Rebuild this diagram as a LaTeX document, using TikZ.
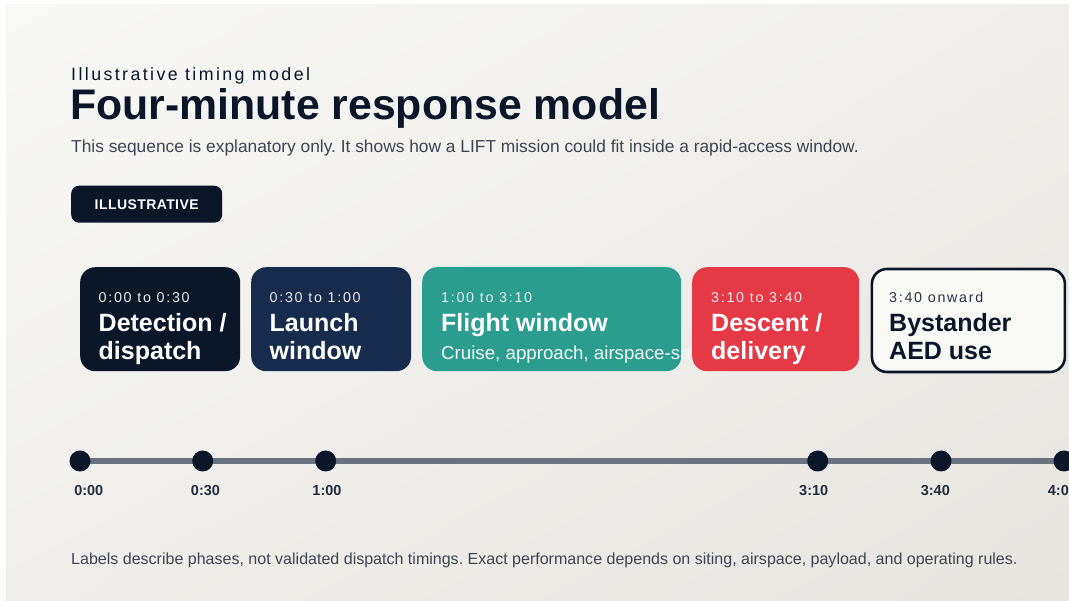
\documentclass[tikz,border=0pt]{standalone}
\usepackage{fontspec}
\usetikzlibrary{shadings}
\setmainfont{Liberation Sans}
\newfontfamily\spacedA[LetterSpace=13.5]{Liberation Sans}
\newfontfamily\spacedB[LetterSpace=12]{Liberation Sans}
\newfontfamily\spacedC[LetterSpace=3]{Liberation Sans}
\definecolor{ink}{HTML}{0B1628}
\definecolor{navyB}{HTML}{172B4D}
\definecolor{teal}{HTML}{2A9D8F}
\definecolor{redc}{HTML}{E63946}
\definecolor{paper}{HTML}{F9F9F6}
\definecolor{muted}{HTML}{3F4452}
\definecolor{track}{HTML}{6B7280}
\definecolor{bgA}{HTML}{F8F8F6}
\definecolor{bgB}{HTML}{E7E5E0}
\definecolor{bgC}{HTML}{EFEEEA}
\begin{document}
\frenchspacing
\begin{tikzpicture}[x=1pt,y=-1pt,
  card/.style={rounded corners=15pt, inner sep=0pt, anchor=north west},
  timelab/.style={anchor=base west, inner sep=0pt, font=\spacedB\fontsize{14.3}{14.3}\selectfont, text=white!92!ink},
  ctitle/.style={anchor=base west, inner sep=0pt, font=\bfseries\fontsize{25}{25}\selectfont, text=white},
  dot/.style={circle, fill=ink, minimum size=21pt, inner sep=0pt},
  ticklab/.style={anchor=base, inner sep=0pt, font=\bfseries\fontsize{14.5}{14.5}\selectfont, text=ink!90!white}
]
\useasboundingbox (0,0) rectangle (1069,601);
\fill[white] (0,0) rectangle (1069,601);
\shade[upper left=bgA, lower right=bgB, upper right=bgC, lower left=bgC] (6,5) rectangle (1069,600);

% header
\node[anchor=base west, inner sep=0pt, text=ink, font=\spacedA\fontsize{17.8}{17.8}\selectfont] (kicker) at (71,80.5) {Illustrative timing model};
\node[anchor=base west, inner sep=0pt, text=ink, font=\bfseries\fontsize{42.8}{42.8}\selectfont] (title) at (70,120) {Four-minute response model};
\node[anchor=base west, inner sep=0pt, text=muted, font=\fontsize{17.35}{17.35}\selectfont] (sub) at (71,152.5) {This sequence is explanatory only. It shows how a LIFT mission could fit inside a rapid-access window.};

% badge
\node[anchor=north west, fill=ink, rounded corners=8pt, minimum width=151pt, minimum height=37pt, inner sep=0pt, text=white, font=\spacedC\bfseries\fontsize{14}{14}\selectfont] (badge) at (71,185.5) {ILLUSTRATIVE};

% cards
\node[card, fill=ink, minimum width=160pt, minimum height=104pt] (c1) at (80,267) {};
\node[card, fill=navyB, minimum width=160pt, minimum height=104pt] (c2) at (251,267) {};
\node[card, fill=teal, minimum width=259pt, minimum height=104pt] (c3) at (422,267) {};
\begin{scope}
\clip (422,267) rectangle (692,371);
\node[anchor=base west, inner sep=0pt, text=white!94!teal, font=\fontsize{18.7}{18.7}\selectfont] (c3s) at (441,359.5) {Cruise, approach, airspace-safe};
\end{scope}
\node[card, fill=redc, minimum width=167pt, minimum height=104pt] (c4) at (692,267) {};
\node[card, fill=paper, draw=ink, line width=2.6pt, minimum width=193pt, minimum height=103pt] (c5) at (870.6,267.7) {};

\node[timelab] (c1a) at (98.5,303) {0:00 to 0:30};
\node[ctitle]  (c1b) at (98.5,331.5) {Detection /};
\node[ctitle]  (c1c) at (98.5,359.5) {dispatch};

\node[timelab] (c2a) at (269.5,303) {0:30 to 1:00};
\node[ctitle]  (c2b) at (269.5,331.5) {Launch};
\node[ctitle]  (c2c) at (269.5,359.5) {window};

\node[timelab] (c3a) at (441,303) {1:00 to 3:10};
\node[ctitle]  (c3b) at (441,331.5) {Flight window};

\node[timelab] (c4a) at (711,303) {3:10 to 3:40};
\node[ctitle]  (c4b) at (711,331.5) {Descent /};
\node[ctitle]  (c4c) at (711,359.5) {delivery};

\node[timelab, text=ink!88!white] (c5a) at (889,303) {3:40 onward};
\node[ctitle, text=ink] (c5b) at (889,331.5) {Bystander};
\node[ctitle, text=ink] (c5c) at (889,359.5) {AED use};

% timeline
\coordinate (p0) at (80,461);
\coordinate (tend) at (1075,461);
\draw[track, line width=5.5pt] (p0) -- (tend);
\node[dot] (d0) at (80,461) {};
\node[dot] (d1) at (202.7,461) {};
\node[dot] (d2) at (325.7,461) {};
\node[dot] (d3) at (817.7,461) {};
\node[dot] (d4) at (941,461) {};
\node[dot] (d5) at (1064,461) {};

\node[ticklab] (l0) at (88.8,496) {0:00};
\node[ticklab] (l1) at (205.5,496) {0:30};
\node[ticklab] (l2) at (327,496) {1:00};
\node[ticklab] (l3) at (813.7,496) {3:10};
\node[ticklab] (l4) at (935.3,496) {3:40};
\node[ticklab, anchor=base west] (l5) at (1047.7,496) {4:00};

% footer
\node[anchor=base west, inner sep=0pt, text=muted, font=\fontsize{16.03}{16.03}\selectfont] (foot) at (71,564) {Labels describe phases, not validated dispatch timings. Exact performance depends on siting, airspace, payload, and operating rules.};
\end{tikzpicture}
\end{document}
